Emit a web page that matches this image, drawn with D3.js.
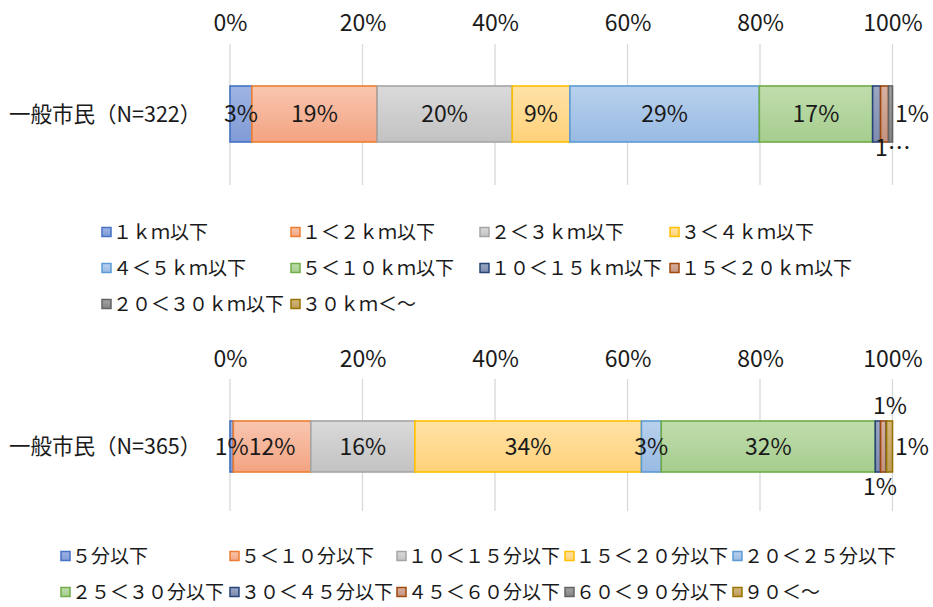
<!DOCTYPE html>
<html><head><meta charset="utf-8">
<script src="https://cdn.jsdelivr.net/npm/d3@7"></script>
<style>
html,body{margin:0;padding:0;background:#fff;}
text{font-family:"Noto Sans CJK JP","Noto Sans",sans-serif;fill:#1a1a1a;}
</style></head>
<body><svg id="chart" width="933" height="607"></svg>
<script>
// ---------- data ----------
const xTicks = [0, 20, 40, 60, 80, 100];

const distCategory = "一般市民（N=322）";
const distSeries = ["１ｋｍ以下","１＜２ｋｍ以下","２＜３ｋｍ以下","３＜４ｋｍ以下","４＜５ｋｍ以下",
  "５＜１０ｋｍ以下","１０＜１５ｋｍ以下","１５＜２０ｋｍ以下","２０＜３０ｋｍ以下","３０ｋｍ＜～"];
const distValues = [3.3, 18.9, 20.4, 8.7, 28.6, 17.1, 1.2, 1.2, 0.6, 0];

const timeCategory = "一般市民（N=365）";
const timeSeries = ["５分以下","５＜１０分以下","１０＜１５分以下","１５＜２０分以下","２０＜２５分以下",
  "２５＜３０分以下","３０＜４５分以下","４５＜６０分以下","６０＜９０分以下","９０＜～"];
const timeValues = [0.5, 11.7, 15.7, 34.2, 3.0, 32.3, 0.8, 0.8, 0.1, 0.9];

// ---------- styles ----------
const palette = [
  {t:"#9fb4e3", b:"#7f9bd6", s:"#4472c4"},
  {t:"#f9c6b0", b:"#f3a381", s:"#ed7d31"},
  {t:"#dadada", b:"#c2c2c2", s:"#a5a5a5"},
  {t:"#ffe2a6", b:"#ffd27a", s:"#ffc000"},
  {t:"#b8d1ed", b:"#98bae3", s:"#5b9bd5"},
  {t:"#c0ddad", b:"#a6cd8e", s:"#70ad47"},
  {t:"#9ba7c2", b:"#7d8bae", s:"#264478"},
  {t:"#d8b0a0", b:"#c4927e", s:"#9e480e"},
  {t:"#a3a3a3", b:"#858585", s:"#636363"},
  {t:"#d3b77e", b:"#bd9d5b", s:"#997300"}
];

const svg = d3.select("#chart");
const defs = svg.append("defs");
palette.forEach((p,i)=>{
  const g = defs.append("linearGradient").attr("id","g"+i)
    .attr("x1",0).attr("y1",0).attr("x2",0).attr("y2",1);
  g.append("stop").attr("offset","0%").attr("stop-color",p.t);
  g.append("stop").attr("offset","100%").attr("stop-color",p.b);
});

const x = d3.scaleLinear().domain([0,100]).range([230, 892.5]);

function drawChart(cfg){
  const g = svg.append("g");
  // gridlines
  g.selectAll("line.grid").data(xTicks).join("line")
    .attr("x1",d=>x(d)).attr("x2",d=>x(d))
    .attr("y1",cfg.gridTop).attr("y2",cfg.gridBottom)
    .attr("stroke","#d9d9d9").attr("stroke-width",1.3);
  // axis labels
  const ax = g.append("g").attr("transform",`translate(0,${cfg.axisY})`)
    .call(d3.axisTop(x).tickValues(xTicks).tickFormat(d=>d+"%").tickSize(0).tickPadding(0));
  ax.select(".domain").remove();
  ax.selectAll("text").attr("font-size",23).attr("fill","#1a1a1a")
    .attr("font-family","'Noto Sans CJK JP',sans-serif");

  // category label
  g.append("text").attr("x",9).attr("y",cfg.barY+cfg.barH/2).attr("dy","0.35em")
    .attr("font-size",21.5).text(cfg.category);

  // stacked segments
  let acc = 0;
  const segs = cfg.values.map((v,i)=>{const s={i,v,x0:acc,x1:acc+v}; acc+=v; return s;});
  g.selectAll("rect.seg").data(segs.filter(s=>s.v>0)).join("rect")
    .attr("x",d=>x(d.x0)).attr("width",d=>Math.max(0,x(d.x1)-x(d.x0)))
    .attr("y",cfg.barY).attr("height",cfg.barH)
    .attr("fill",d=>`url(#g${d.i})`).attr("stroke",d=>palette[d.i].s).attr("stroke-width",1.6);

  // labels
  segs.forEach(s=>{
    if(s.v<=0) return;
    const lab = Math.round(s.v)+"%";
    const special = cfg.special[s.i];
    const cx = (x(s.x0)+x(s.x1))/2, cy = cfg.barY+cfg.barH/2;
    if(special === "hide") return;
    let tx=cx, ty=cy, txt=lab;
    if(special){ tx = special.x; ty = special.y; if(special.text) txt=special.text; }
    g.append("text").attr("x",tx).attr("y",ty).attr("dy","0.35em")
      .attr("text-anchor","middle").attr("font-size",23).text(txt);
  });

  // legend
  cfg.series.forEach((name,i)=>{
    const col = i % cfg.legCols, row = Math.floor(i / cfg.legCols);
    const lx = cfg.legX[col], ly = cfg.legY[row];
    g.append("rect").attr("x",lx).attr("y",ly-4.5).attr("width",9).attr("height",9)
      .attr("fill",`url(#g${i})`).attr("stroke",palette[i].s).attr("stroke-width",1.5);
    g.append("text").attr("x",lx+11).attr("y",ly).attr("dy","0.36em")
      .attr("font-size",19).text(name);
  });
}

drawChart({
  category: distCategory, series: distSeries, values: distValues,
  axisY: 31, gridTop: 44, gridBottom: 185, barY: 86, barH: 56,
  special: {6:{x:893,y:148,text:"1…"}, 7:{x:912,y:114}, 8:"hide"},
  legCols: 4, legX: [102, 291, 480, 670], legY: [232, 268, 304]
});
drawChart({
  category: timeCategory, series: timeSeries, values: timeValues,
  axisY: 367, gridTop: 379, gridBottom: 511, barY: 421, barH: 51,
  special: {6:{x:880,y:487}, 7:{x:890,y:406}, 8:"hide", 9:{x:912,y:447}},
  legCols: 5, legX: [61, 230, 397, 565, 733], legY: [556, 592]
});
</script></body></html>
